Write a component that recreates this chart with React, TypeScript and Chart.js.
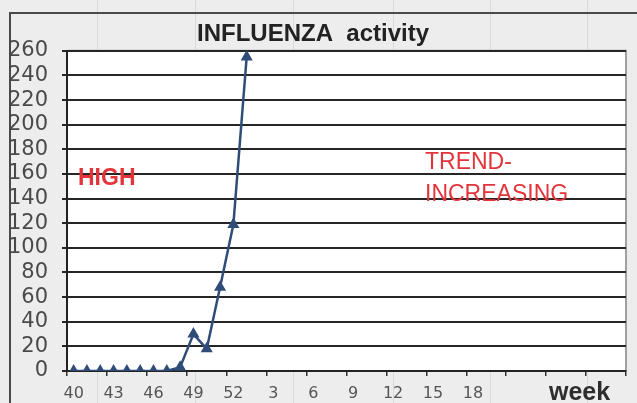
import React, { useEffect, useRef } from "react";
import { Chart, registerables } from "chart.js";

Chart.register(...registerables);

const categories: string[] = [
  "40", "41", "42", "43", "44", "45", "46", "47", "48", "49", "50", "51", "52",
  "1", "2", "3", "4", "5", "6", "7", "8", "9", "10", "11", "12", "13", "14", "15",
  "16", "17", "18", "19", "20", "21", "22", "23", "24", "25", "26", "27", "28", "29",
];

const shownTickLabels: string[] = ["40", "43", "46", "49", "52", "3", "6", "9", "12", "15", "18"];

const influenzaValues: (number | null)[] = [
  0, 0, 0, 0, 0, 0, 0, 0, 3, 30, 18, 68, 119, 255,
];

const yTicksMin = 0;
const yTicksMax = 260;
const yTicksStep = 20;

const titleText = "INFLUENZA  activity";
const axisTitleText = "week";
const levelText = "HIGH";
const trendLines: string[] = ["TREND-", "INCREASING"];

export default function App() {
  const canvasRef = useRef<HTMLCanvasElement | null>(null);

  useEffect(() => {
    document.body.style.margin = "0";
    const canvas = canvasRef.current;
    if (!canvas) return;

    const backgroundPlugin = {
      id: "sheetBackground",
      beforeDraw(chart: any) {
        const { ctx, width, height, chartArea } = chart;
        ctx.save();
        ctx.fillStyle = "#ededed";
        ctx.fillRect(0, 0, width, height);
        ctx.strokeStyle = "#dadada";
        ctx.lineWidth = 1;
        [97, 195, 293, 393, 490, 587].forEach((x) => {
          ctx.beginPath();
          ctx.moveTo(x + 0.5, 0);
          ctx.lineTo(x + 0.5, height);
          ctx.stroke();
        });
        // outer chart frame
        ctx.strokeStyle = "#4a4a4a";
        ctx.lineWidth = 2;
        ctx.beginPath();
        ctx.moveTo(10, height);
        ctx.lineTo(10, 13);
        ctx.lineTo(width, 13);
        ctx.stroke();
        // plot area
        ctx.fillStyle = "#ffffff";
        ctx.fillRect(chartArea.left, chartArea.top, chartArea.right - chartArea.left, chartArea.bottom - chartArea.top);
        ctx.strokeStyle = "#a0a0a0";
        ctx.lineWidth = 2;
        ctx.beginPath();
        ctx.moveTo(chartArea.right, chartArea.bottom);
        ctx.lineTo(chartArea.right, chartArea.top);
        ctx.lineTo(chartArea.left, chartArea.top);
        ctx.stroke();
        ctx.restore();
      },
    };

    const textPlugin = {
      id: "annotationsText",
      beforeDatasetsDraw(chart: any) {
        const { ctx } = chart;
        ctx.save();
        ctx.textBaseline = "alphabetic";
        ctx.textAlign = "left";
        ctx.fillStyle = "#e2343a";
        ctx.font = "bold 23px 'Liberation Sans', Arial, sans-serif";
        ctx.fillText(levelText, 78, 185);
        ctx.font = "23px 'Liberation Sans', Arial, sans-serif";
        ctx.fillText(trendLines[0], 425, 169);
        ctx.fillText(trendLines[1], 425, 201);
        ctx.restore();
      },
      afterDraw(chart: any) {
        const { ctx } = chart;
        ctx.save();
        ctx.textBaseline = "alphabetic";
        ctx.textAlign = "left";
        ctx.fillStyle = "#2e2e2e";
        ctx.font = "bold 25px 'Liberation Sans', Arial, sans-serif";
        ctx.fillText(axisTitleText, 549, 400);
        ctx.restore();
      },
    };

    const chart = new Chart(canvas, {
      type: "line",
      data: {
        labels: categories,
        datasets: [
          {
            label: "Influenza",
            data: influenzaValues,
            borderColor: "#2f4d78",
            backgroundColor: "#2f4d78",
            borderWidth: 2.5,
            pointStyle: "triangle",
            pointRadius: 4.5,
            pointBackgroundColor: "#2f4d78",
            pointBorderColor: "#2f4d78",
            tension: 0,
            spanGaps: false,
          },
        ],
      },
      options: {
        responsive: false,
        animation: false,
        devicePixelRatio: 1,
        layout: { padding: { left: 0, right: 11, top: 0, bottom: 0 } },
        plugins: {
          legend: { display: false },
          tooltip: { enabled: false },
          title: {
            display: true,
            text: titleText,
            color: "#222222",
            font: { family: "'Liberation Sans', Arial, sans-serif", size: 24, weight: "bold", lineHeight: 1.2 },
            padding: { top: 20, bottom: 2 },
          },
        },
        scales: {
          x: {
            type: "category",
            offset: true,
            grid: {
              offset: true,
              drawOnChartArea: false,
              drawTicks: true,
              tickLength: 5,
              lineWidth: 1.5,
              color: (ctx: any) =>
                ctx.type !== "tick" || ctx.index % 3 === 0 ? "#333333" : "rgba(0,0,0,0)",
            },
            border: { display: true, color: "#222222", width: 2 },
            ticks: {
              autoSkip: false,
              maxRotation: 0,
              minRotation: 0,
              padding: 8,
              color: "#555555",
              font: { family: "'DejaVu Sans', sans-serif", size: 16 },
              callback: (_v: any, i: number) =>
                i % 3 === 0 && shownTickLabels.includes(categories[i]) ? categories[i] : "",
            },
            afterFit: (scale: any) => {
              scale.height = 32;
            },
          },
          y: {
            min: yTicksMin,
            max: yTicksMax,
            grid: {
              color: "#262626",
              lineWidth: 2,
              drawTicks: true,
              tickLength: 5,
            },
            border: { display: true, color: "#222222", width: 2 },
            ticks: {
              stepSize: yTicksStep,
              autoSkip: false,
              padding: 14,
              color: "#4a4a4a",
              font: { family: "'DejaVu Sans', sans-serif", size: 21, lineHeight: 1 },
            },
            afterFit: (scale: any) => {
              scale.width = 67;
            },
          },
        },
      },
      plugins: [backgroundPlugin, textPlugin],
    });

    return () => chart.destroy();
  }, []);

  return (
    <div style={{ position: "absolute", left: 0, top: 0, width: 637, height: 403 }}>
      <canvas ref={canvasRef} width={637} height={403} style={{ display: "block" }} />
    </div>
  );
}
